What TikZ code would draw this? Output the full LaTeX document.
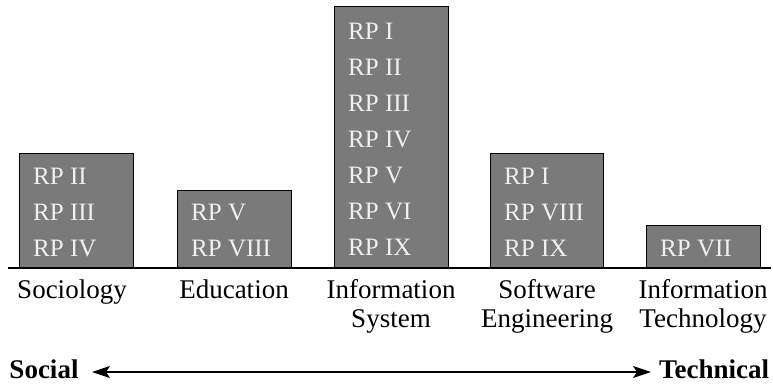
\documentclass[tikz,border=0pt]{standalone}
\usepackage{fontspec}
\setmainfont{Liberation Serif}
\usetikzlibrary{arrows.meta}
\tikzset{
  bar/.style={draw=black, line width=1.4pt, fill=barfill, anchor=south west, inner sep=0pt},
  rp/.style={anchor=base west, inner sep=0pt, text=rptext, font=\fontsize{25}{29}\selectfont},
  field/.style={anchor=base, inner sep=0pt, align=center, font=\fontsize{27}{29}\selectfont},
  pole/.style={anchor=base, inner sep=0pt, font=\fontsize{27}{29}\selectfont\bfseries},
}
\definecolor{barfill}{RGB}{122,122,122}
\definecolor{rptext}{RGB}{240,240,240}
\begin{document}
\begin{tikzpicture}[x=1pt, y=-1pt]
\useasboundingbox (0,0) rectangle (773,384);
% baseline
\coordinate (axL) at (8,268);
\coordinate (axR) at (771,268);
\draw[line width=1.4pt] (axL) -- (axR);
% bars
\node[bar, minimum width=114pt, minimum height=114pt] (soc) at (19,268) {};
\node[bar, minimum width=114pt, minimum height=77pt]  (edu) at (177,268) {};
\node[bar, minimum width=114pt, minimum height=261pt] (is)  at (334,268) {};
\node[bar, minimum width=113pt, minimum height=114pt] (se)  at (490,268) {};
\node[bar, minimum width=114pt, minimum height=42pt]  (it)  at (646,268) {};
% research papers per field
\node[rp] (soc1) at (33,184) {RP II};
\node[rp] (soc2) at (33,220) {RP III};
\node[rp] (soc3) at (33,256) {RP IV};
\node[rp] (edu1) at (191,220) {RP V};
\node[rp] (edu2) at (191,256) {RP VIII};
\node[rp] (is1) at (348,39) {RP I};
\node[rp] (is2) at (348,75) {RP II};
\node[rp] (is3) at (348,111) {RP III};
\node[rp] (is4) at (348,147) {RP IV};
\node[rp] (is5) at (348,183) {RP V};
\node[rp] (is6) at (348,219) {RP VI};
\node[rp] (is7) at (348,255) {RP IX};
\node[rp] (se1) at (504,184) {RP I};
\node[rp] (se2) at (504,220) {RP VIII};
\node[rp] (se3) at (504,256) {RP IX};
\node[rp] (it1) at (660,256) {RP VII};
% field names (base anchor sits on the last line)
\node[field] (lsoc) at (72,298) {Sociology};
\node[field] (ledu) at (234,298) {Education};
\node[field] (lis)  at (391,327) {Information\\System};
\node[field] (lse)  at (547,327) {Software\\Engineering};
\node[field] (lit)  at (703,327) {Information\\Technology};
% social--technical scale
\node[pole] (social) at (44,378) {Social};
\node[pole] (technical) at (714,378) {Technical};
\coordinate (scL) at (92,372);
\coordinate (scR) at (651,372);
\draw[line width=1.3pt, {Stealth[length=18pt,width=12pt,inset=4pt]}-{Stealth[length=18pt,width=12pt,inset=4pt]}] (scL) -- (scR);
\end{tikzpicture}
\end{document}
